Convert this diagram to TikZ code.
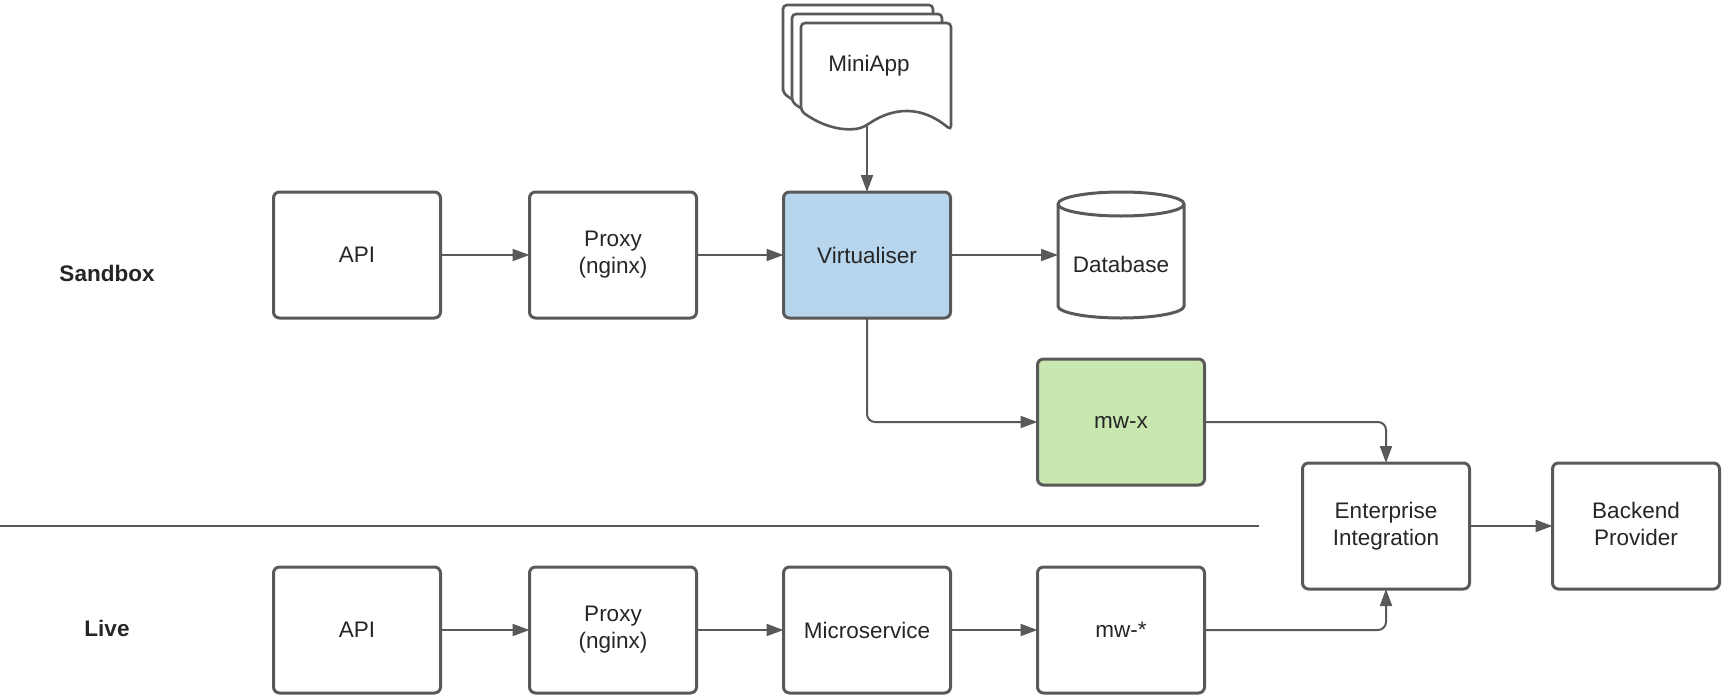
\documentclass[tikz,border=0pt]{standalone}
\usepackage{fontspec}
\setmainfont{Liberation Sans}
\usetikzlibrary{arrows.meta}
\definecolor{edge}{HTML}{595959}
\definecolor{txt}{HTML}{262626}
\definecolor{virtblue}{HTML}{B7D5EC}
\definecolor{mwgreen}{HTML}{C8E8B0}
\begin{document}
\begin{tikzpicture}[x=1pt,y=-1pt,
  lab/.style={font=\fontsize{22.5}{27}\selectfont, text=txt, align=center},
  box/.style={lab, draw=edge, line width=3pt, rounded corners=6pt, minimum width=167pt, minimum height=126pt, inner sep=0pt, outer sep=0pt, fill=white},
  arr/.style={draw=edge, line width=2pt, -{Triangle[length=17pt,width=12pt]}},
  sidelbl/.style={font=\fontsize{22.5}{27}\selectfont\bfseries, text=txt},
  doc/.style={draw=edge, line width=2.6pt, fill=white, rounded corners=4pt}]
\useasboundingbox (0,0) rectangle (1725,699);

% Sandbox row
\node[box] (sapi) at (357,255) {API};
\node[box] (sproxy) at (613,255) {Proxy\\(nginx)};
\node[box, fill=virtblue] (virt) at (867,255) {Virtualiser};
\node[minimum width=126pt, minimum height=126pt, inner sep=0pt, outer sep=0pt] (db) at (1121,255) {};
\draw[draw=edge, line width=3pt, fill=white] (1058,204) -- (1058,306)
  arc[start angle=180, end angle=360, x radius=63pt, y radius=12pt] -- (1184,204)
  arc[start angle=0, end angle=180, x radius=63pt, y radius=12pt] -- cycle;
\draw[draw=edge, line width=3pt] (1058,204) arc[start angle=180, end angle=360, x radius=63pt, y radius=12pt];
\node[lab] (dbl) at (1121,264) {Database};

% MiniApp stacked documents
\foreach \d in {-18,-9,0}{
  \draw[doc, shift={(\d,\d)}] (801,111) -- (801,23) -- (951,23) -- (951,130)
    .. controls (915,100) and (885,113) .. (867,125)
    .. controls (855,131) and (830,132) .. (801,111) -- cycle;
}
\node[lab] (mini) at (869,66) {MiniApp};
\coordinate (minibot) at (867,126);

% mw-x
\node[box, fill=mwgreen] (mwx) at (1121,422) {mw-x};

% Enterprise / Backend
\node[box] (ei) at (1386,526) {Enterprise\\Integration};
\node[box] (be) at (1636,526) {Backend\\Provider\vphantom{g}};

% separator
\coordinate (sepL) at (0,526);
\coordinate (sepR) at (1259,526);
\draw[draw=edge, line width=2pt] (sepL) -- (sepR);

% Live row
\node[box] (lapi) at (357,630) {API};
\node[box] (lproxy) at (613,630) {Proxy\\(nginx)};
\node[box] (lms) at (867,630) {Microservice};
\node[box] (mws) at (1121,630) {mw-*};

% side labels
\node[sidelbl] (sb) at (107,273) {Sandbox};
\node[sidelbl] (lv) at (107,628) {Live};

% connectors
\draw[arr] (sapi.east) -- (sproxy.west);
\draw[arr] (sproxy.east) -- (virt.west);
\draw[arr] (virt.east) -- (db.west);
\draw[arr] (minibot) -- (virt.north);
\draw[arr, rounded corners=8pt] (virt.south) |- (mwx.west);
\draw[arr, rounded corners=8pt] (mwx.east) -| (ei.north);
\draw[arr] (ei.east) -- (be.west);
\draw[arr] (lapi.east) -- (lproxy.west);
\draw[arr] (lproxy.east) -- (lms.west);
\draw[arr] (lms.east) -- (mws.west);
\draw[arr, rounded corners=8pt] (mws.east) -| (ei.south);
\end{tikzpicture}
\end{document}
